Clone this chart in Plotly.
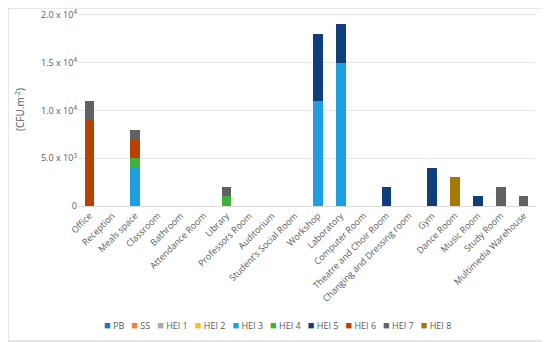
import plotly.graph_objects as go

categories = ["Office", "Reception", "Meals space", "Classroom", "Bathroom", "Attendance Room",
              "Library", "Professors Room", "Auditorium", "Student\u2019s Social Room", "Workshop",
              "Laboratory", "Computer Room", "Theatre and Choir Room", "Changing and Dressing room",
              "Gym", "Dance Room", "Music Room", "Study Room", "Multimedia Warehouse"]

PB    = [0]*20
SS    = [0]*20
HEI_1 = [0]*20
HEI_2 = [0]*20
HEI_3 = [0, 0, 4000, 0, 0, 0, 0, 0, 0, 0, 11000, 15000, 0, 0, 0, 0, 0, 0, 0, 0]
HEI_4 = [0, 0, 1000, 0, 0, 0, 1000, 0, 0, 0, 0, 0, 0, 0, 0, 0, 0, 0, 0, 0]
HEI_5 = [0, 0, 0, 0, 0, 0, 0, 0, 0, 0, 7000, 4000, 0, 2000, 0, 4000, 0, 1000, 0, 0]
HEI_6 = [9000, 0, 2000, 0, 0, 0, 0, 0, 0, 0, 0, 0, 0, 0, 0, 0, 0, 0, 0, 0]
HEI_7 = [2000, 0, 1000, 0, 0, 0, 1000, 0, 0, 0, 0, 0, 0, 0, 0, 0, 0, 0, 2000, 1000]
HEI_8 = [0, 0, 0, 0, 0, 0, 0, 0, 0, 0, 0, 0, 0, 0, 0, 0, 3000, 0, 0, 0]

series_names = ["PB", "SS", "HEI 1", "HEI 2", "HEI 3", "HEI 4", "HEI 5", "HEI 6", "HEI 7", "HEI 8"]
series_values = [PB, SS, HEI_1, HEI_2, HEI_3, HEI_4, HEI_5, HEI_6, HEI_7, HEI_8]
colors = ["#2372C0", "#F07F3A", "#A9A9A9", "#FFC000", "#1E9FE0", "#3DB03D",
          "#0F3F7A", "#B84200", "#626262", "#A67A00"]

tick_vals = [0, 5000, 10000, 15000, 20000]
tick_text = ["0", "5.0 x 10<sup>3</sup>", "1.0 x 10<sup>4</sup>", "1.5 x 10<sup>4</sup>", "2.0 x 10<sup>4</sup>"]
y_range = [0, 20200]

fig = go.Figure()
for name, vals, col in zip(series_names, series_values, colors):
    fig.add_trace(go.Bar(x=categories, y=vals, name=name, marker_color=col,
                         marker_line_width=0, showlegend=False))

# page body adds an 8px offset; figure is sized/placed to compensate
OFF = 8
W, H = 550 - OFF, 342 - OFF
L, R, T, B = 78 - OFF, 15, 13 - OFF, 136
pw, ph = W - L - R, H - T - B

def px_to_paper(x, y):
    # x, y are window pixel positions
    x -= OFF
    y -= OFF
    return (x - L) / pw, (H - B - y) / ph

legend_parts = []
for name, col in zip(series_names, colors):
    legend_parts.append('<span style="color:%s;font-size:11px">\u25A0</span> %s' % (col, name))
legend_text = "&nbsp;&nbsp;&nbsp;".join(legend_parts)
lx, ly = px_to_paper(277, 324)

x0, y0 = px_to_paper(OFF, OFF)
x1, y1 = px_to_paper(549, 341)

fig.update_layout(
    width=W, height=H,
    margin=dict(l=L, r=R, t=T, b=B, autoexpand=False),
    barmode="stack", bargap=0.58,
    plot_bgcolor="white", paper_bgcolor="white",
    font=dict(family="Open Sans", size=9, color="#595959"),
    xaxis=dict(tickangle=-45, showgrid=False, showline=True, linecolor="#D9D9D9",
               linewidth=1, ticks="", automargin=False, tickfont=dict(size=9, color="#595959")),
    yaxis=dict(range=y_range, tickvals=tick_vals, ticktext=tick_text, automargin=False,
               showgrid=True, gridcolor="#E3E3E3", gridwidth=1, zeroline=False,
               ticklabeloverflow="allow",
               showline=False, ticks="", tickfont=dict(size=9, color="#595959"),
               title=dict(text="(CFU.m<sup>-2</sup>)", font=dict(size=10, color="#595959"),
                          standoff=14)),
    annotations=[dict(text=legend_text, xref="paper", yref="paper", x=lx, y=ly,
                      xanchor="center", yanchor="middle", showarrow=False,
                      font=dict(size=9, color="#595959"))],
    shapes=[dict(type="rect", xref="paper", yref="paper", x0=x0, y0=y0, x1=x1, y1=y1,
                 line=dict(color="#D0D0D0", width=1), fillcolor="rgba(0,0,0,0)", layer="below")],
)

fig.write_html("out.html")
